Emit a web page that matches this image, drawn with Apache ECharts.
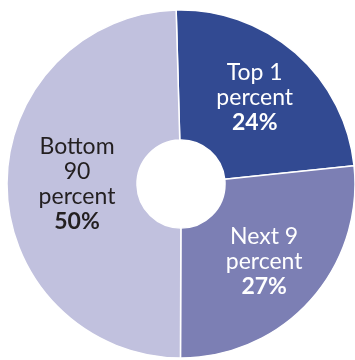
<!DOCTYPE html>
<html>
<head>
<meta charset="utf-8">
<script src="https://cdn.jsdelivr.net/npm/echarts@6/dist/echarts.min.js"></script>
<style>
  html, body { margin: 0; padding: 0; background: #fff; }
  #chart { width: 355px; height: 360px; }
</style>
</head>
<body>
<div id="chart"></div>
<script>
// shares of the total, clockwise from the top
var groups = ['Top 1\npercent', 'Next 9\npercent', 'Bottom\n90\npercent'];
var shares = [24, 27, 50];
var colors = ['#324a92', '#7c7fb4', '#c1c1de'];
var textColors = ['#ffffff', '#ffffff', '#231f20'];
var labelShift = [[0, -2], [0, 3], [8, -1]];

var chart = echarts.init(document.getElementById('chart'));

var data = [];
for (var i = 0; i < groups.length; i++) {
  data.push({
    name: groups[i],
    value: shares[i],
    itemStyle: { color: colors[i] },
    label: { color: textColors[i], offset: labelShift[i] }
  });
}

chart.setOption({
  animation: false,
  series: [{
    type: 'pie',
    center: [181, 184],
    radius: [44, 174],
    startAngle: 91.6,
    clockwise: true,
    itemStyle: { borderColor: '#fff', borderWidth: 1.5 },
    label: {
      show: true,
      position: 'inside',
      fontFamily: 'Lato',
      fontSize: 23,
      lineHeight: 25,
      formatter: function (p) {
        var lines = p.name.split('\n').map(function (s) { return '{n|' + s + '}'; });
        lines.push('{b|' + p.value + '%}');
        return lines.join('\n');
      },
      rich: {
        n: { fontFamily: 'Lato', fontSize: 23, lineHeight: 25 },
        b: { fontFamily: 'Lato', fontSize: 23, lineHeight: 25, fontWeight: 'bold' }
      }
    },
    labelLine: { show: false },
    data: data
  }]
});
</script>
</body>
</html>
